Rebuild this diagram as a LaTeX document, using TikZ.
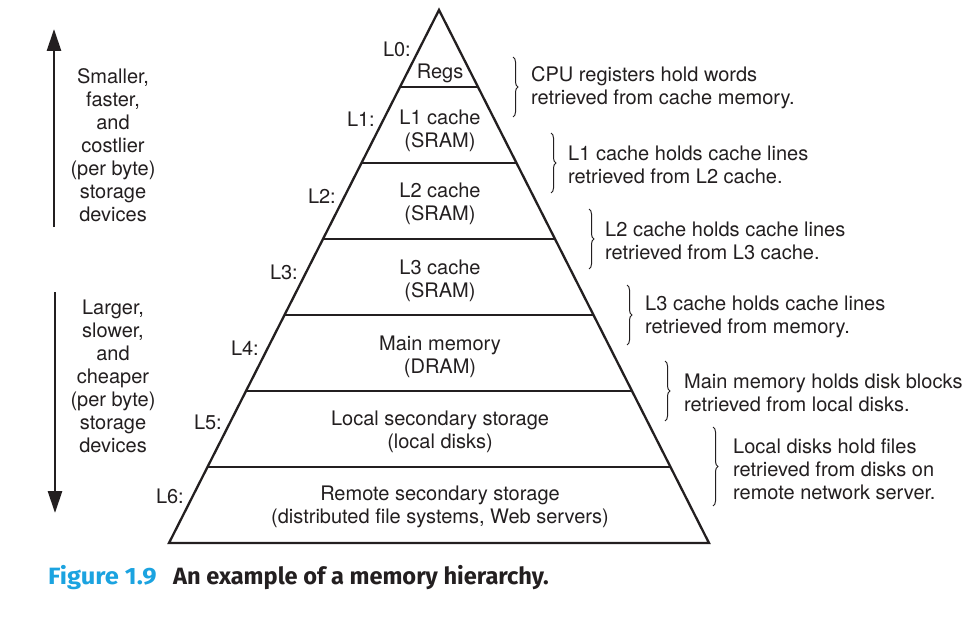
\documentclass[tikz,border=0pt]{standalone}
\usepackage{fontspec}
\setmainfont{TeX Gyre Heros}
\newfontfamily\capfont{Fira Sans}
\usetikzlibrary{arrows.meta,decorations.pathreplacing,calc}
\definecolor{ink}{HTML}{231F20}
\definecolor{capblue}{HTML}{1BA3E0}
\begin{document}
\begin{tikzpicture}[x=1pt,y=-1pt,
  txt/.style={font=\fontsize{20}{23}\selectfont, text=ink, inner sep=0pt},
  lvl/.style={txt, align=center},
  tag/.style={txt, anchor=east},
  note/.style={txt, anchor=west, align=left},
  side/.style={txt, align=center},
  pyr/.style={draw=ink, line width=2.3pt, line join=miter},
  tier/.style={draw=ink, line width=2.3pt},
  brc/.style={draw=ink, line width=1pt, decorate, decoration={brace, amplitude=5pt}},
  bigarrow/.style={draw=ink, line width=2.8pt, -{Triangle[length=22pt,width=14pt]}},
  capstyle/.style={anchor=west, inner sep=0pt, font=\capfont\bfseries\fontsize{23.6}{27}\selectfont}
]
\useasboundingbox (0,0) rectangle (977,618);
\fill[white] (0,0) rectangle (977,618);

% pyramid
\coordinate (apex) at (439,10);
\coordinate (bl) at (169,543);
\coordinate (br) at (709,543);
\draw[pyr] (apex) -- (bl) -- (br) -- cycle;
\foreach \t in {0.1445,0.2871,0.4296,0.5722,0.7148,0.8574}
  \draw[tier] ($(apex)!\t!(bl)$) -- ($(apex)!\t!(br)$);

% contents
\node[lvl] (regs) at (440,73.5) {Regs};
\node[lvl] (l1) at (440,131) {L1 cache\\(SRAM)};
\node[lvl] (l2) at (440,204) {L2 cache\\(SRAM)};
\node[lvl] (l3) at (440,281) {L3 cache\\(SRAM)};
\node[lvl] (l4) at (440,357) {Main memory\\(DRAM)};
\node[lvl] (l5) at (440,432) {Local secondary storage\\(local disks)};
\node[lvl] (l6) at (440,507) {Remote secondary storage\\(distributed file systems, Web servers)};

% level tags
\node[tag] (t0) at (411,49) {L0:};
\node[tag] (t1) at (375,119) {L1:};
\node[tag] (t2) at (336,196) {L2:};
\node[tag] (t3) at (298,272) {L3:};
\node[tag] (t4) at (259,348) {L4:};
\node[tag] (t5) at (222,422) {L5:};
\node[tag] (t6) at (184,496) {L6:};

% braces and notes
\draw[brc] (513,57) -- (513,117);
\node[note] (n0) at (531,88) {CPU registers hold words\\retrieved from cache memory.};
\draw[brc] (551,133) -- (551,193);
\node[note] (n1) at (568,164.5) {L1 cache holds cache lines\\retrieved from L2 cache.};
\draw[brc] (589,209) -- (589,269);
\node[note] (n2) at (605,240.5) {L2 cache holds cache lines\\retrieved from L3 cache.};
\draw[brc] (627,285) -- (627,345);
\node[note] (n3) at (645,316.5) {L3 cache holds cache lines\\retrieved from memory.};
\draw[brc] (665,361) -- (665,421);
\node[note] (n4) at (684,393) {Main memory holds disk blocks\\retrieved from local disks.};
\draw[brc] (713,427) -- (713,506);
\node[note] (n5) at (733,469.5) {Local disks hold files\\retrieved from disks on\\remote network server.};

% side arrows
\coordinate (ua) at (54,227);
\coordinate (ub) at (54,29);
\draw[bigarrow] (ua) -- (ub);
\coordinate (da) at (55,292);
\coordinate (db) at (55,513);
\draw[bigarrow] (da) -- (db);
\node[side] (up) at (113,145) {Smaller,\\faster,\\and\\costlier\\(per byte)\\storage\\devices};
\node[side] (dn) at (113,376.5) {Larger,\\slower,\\and\\cheaper\\(per byte)\\storage\\devices};

% caption
\node[capstyle, text=capblue] (fig) at (48,578) {\scalebox{1.08}[1]{Figure 1.9}};
\node[capstyle, text=ink] (cap) at (173,578) {An example of a memory hierarchy.};
\end{tikzpicture}
\end{document}
